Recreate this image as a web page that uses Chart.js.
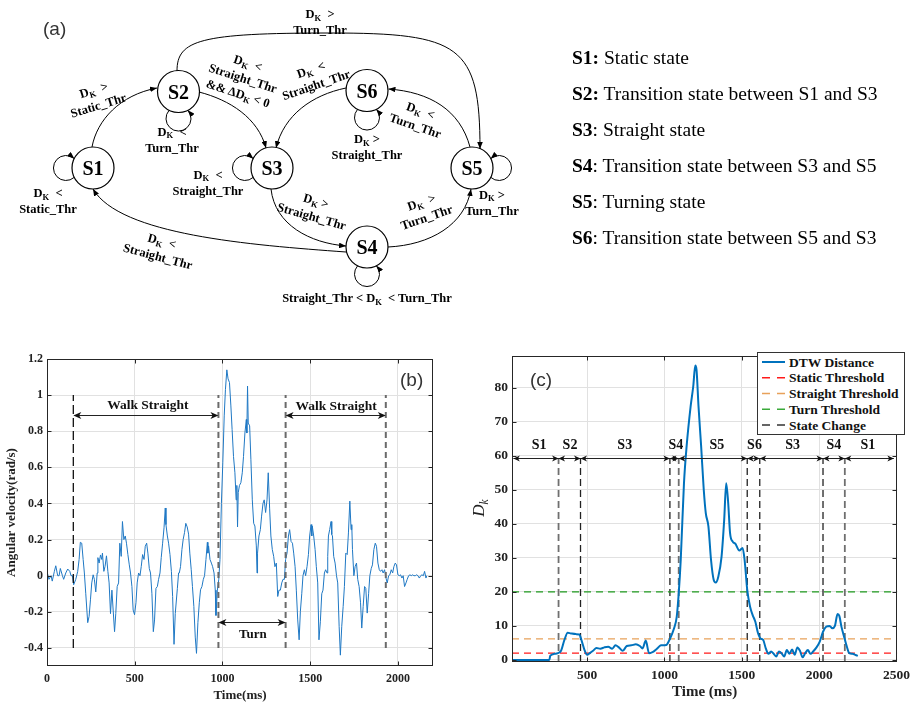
<!DOCTYPE html>
<html>
<head>
<meta charset="utf-8">
<script src="https://cdn.jsdelivr.net/npm/chart.js@4.4.1/dist/chart.umd.min.js"></script>
<style>
html,body{margin:0;padding:0;background:#fff;}
body{width:915px;height:704px;position:relative;overflow:hidden;}
canvas{position:absolute;}
#cb{left:0;top:340px;}
#cc{left:450px;top:340px;}
#ov{position:absolute;left:0;top:0;pointer-events:none;}
</style>
</head>
<body>
<canvas id="cb" width="450" height="364"></canvas>
<canvas id="cc" width="465" height="364"></canvas>
<svg id="ov" width="915" height="704" xmlns="http://www.w3.org/2000/svg"></svg>
<script>
// ===================== DATA =====================
// (b) angular velocity
const timeB = [
0,11,23,30,42,50,61,69,76,88,
95,107,118,130,137,145,152,164,175,183,
190,198,206,213,221,232,240,248,255,263,
270,278,286,290,297,305,312,316,324,331,
339,347,354,362,370,377,385,392,400,408,
415,423,430,438,446,453,461,469,476,484,
491,499,507,514,522,530,537,545,553,560,
568,575,583,590,598,606,613,621,629,636,
644,651,659,667,674,678,686,693,701,709,
716,724,731,743,750,
754,761,769,776,784,791,799,807,814,822,
829,837,845,852,860,868,875,883,891,898,
906,914,917,921,929,937,944,952,959,963,
971,979,986,994,1002,1010,1017,1025,1032,1040,
1048,1055,1063,1071,1078,1082,1086,1090,1097,1105,
1113,1120,1128,1136,1139,1143,1147,1155,1162,1170,
1178,1185,1193,1197,1200,1208,1216,1223,1231,1238,
1246,1254,1261,1269,1276,1284,1292,1299,1307,1315,
1322,1330,1338,1345,1353,1360,1368,1376,1383,1391,
1399,1406,1414,1421,1429,1437,1444,1452,1459,1467,
1474,1482,1490,1497,1505,1509,1512,1520,1528,1535,
1543,1550,1558,1566,1573,1581,1588,1596,1600,1604,
1611,1619,1623,1627,1634,1642,1650,1657,1665,1672,
1680,1688,1695,1703,1711,1718,1726,1733,1737,1741,
1749,1756,1764,1771,1779,1787,1794,1802,1810,1817,
1825,1833,1840,1848,1855,1863,1871,1878,1886,1894,
1901,1909,1916,1924,1932,1939,1947,1954,1962,1970,
1977,1985,1992,2000,2008,2015,2023,2030,2038,2046,
2053,2061,2069,2076,2084,2091,2099,2107,2114,2122,
2130,2137,2145,2152,2160,2164];
const angVel = [
.024,-.02,0,-.03,.024,.055,0,0,.04,0,
-.02,.015,.037,.024,0,0,-.05,-.02,.024,.09,
.185,.18,.09,.015,-.1,-.26,-.225,-.13,-.04,.005,
-.02,-.09,.015,.1,.07,.115,.09,.125,.024,.052,
.11,.024,-.04,-.21,-.08,-.19,-.31,-.21,-.06,-.04,
.18,.107,.30,.2,.22,.18,.117,.06,.015,-.06,
-.19,-.216,-.15,-.04,.015,0,.05,.117,.09,.163,
.18,.125,.04,.015,-.1,-.31,-.245,-.07,-.06,-.02,
.015,.1,.18,.265,.375,.283,.22,.18,.117,.024,
-.115,-.38,-.21,-.07,.015,
.015,.05,.145,.2,.24,.29,.27,.23,.125,.033,
-.06,-.17,-.34,-.43,-.26,-.15,-.078,-.06,-.02,0,
.09,.185,.125,.165,.09,.07,.05,.015,-.08,-.22,
-.08,-.02,.09,.4,.625,.885,1.03,1.14,1.09,1.07,
.94,.81,.66,.57,.42,.5,.27,.46,.5,.515,
.57,.66,.79,.865,.79,1.05,.845,.83,.645,.42,
.29,.275,.165,.015,.125,.22,.255,.33,.4,.42,
.35,.42,.57,.37,.22,.145,.107,.05,.07,-.115,
-.08,-.08,-.04,-.02,-.02,.09,.125,.22,.255,.19,
.18,.125,.05,-.08,-.245,-.355,-.2,-.1,0,.033,
0,.05,.117,.22,.283,.22,.275,.22,.145,.05,
-.04,-.355,-.255,-.1,-.08,.015,.033,.015,.107,.22,
.255,.3,.228,.22,.107,.07,0,-.04,-.28,-.44,
-.28,-.17,-.06,.125,.117,.237,.413,.255,.283,.145,
0,.05,.07,-.02,-.06,-.15,-.29,-.17,-.06,-.07,
-.207,-.1,0,.04,.06,.145,.18,.163,.07,.033,
.024,.033,.015,.033,-.013,-.04,0,.005,.033,.015,
.05,.07,.06,.005,0,.005,-.013,0,-.06,-.04,
-.02,0,.005,0,.005,0,0,.005,0,-.013,
0,.005,0,.024,-.013,0];
const xTicksB = [0,500,1000,1500,2000];
const yTicksB = [-0.4,-0.2,0,0.2,0.4,0.6,0.8,1,1.2];
const phaseMarksB = [150,977,1360,1931];
const spanLabelsB = ['Walk Straight','Turn','Walk Straight'];
const spanFromB = [150,977,1360];
const spanToB = [977,1360,1931];
const spanLevelB = [0.889,-0.259,0.889];
const spanTextTB = [575,1173,1648];
const spanTextVB = [0.94,-0.328,0.937];

// (c) DTW distance
const timeC = [
13,100,200,255,262,290,310,331,353,374,
395,427,449,466,483,500,517,538,560,585,
611,636,662,683,705,730,756,785,815,841,
858,879,900,926,951,977,1011,1032,1062,1079,
1092,1105,1126,1143,1169,1186,1199,1207,1220,1237,
1254,1267,1284,1301,1318,1331,1348,1369,1386,1399,
1412,1424,1441,1458,1484,1505,1518,1535,1553,1570,
1587,1604,1621,1638,1655,1672,1689,1706,1723,1740,
1757,1774,1791,1808,1825,1842,1859,1876,1893,1910,
1927,1944,1961,1983,2004,2025,2046,2068,2085,2102,
2119,2131,2144,2161,2178,2195,2216,2233,2250];
const dtwDist = [
0,0,0,0,1.3,1.8,2.0,2.7,5.9,8.0,
7.8,7.6,7.5,5.4,2.9,1.5,2.0,2.7,3.5,3.3,
3.7,3.9,3.3,4.3,3.7,2.7,4.1,4.3,4.6,4.1,
3.4,5.7,2.0,2.4,3.3,4.3,4.4,5.9,9.3,12.7,
19.6,29.4,52,62.8,74.6,80.5,86.6,85.4,74.6,62.8,
50,43.2,39.3,29.4,23.6,22.8,24.5,30.4,41.2,52,
46.1,37.3,34.8,34.2,32.2,32.9,29.4,20.6,15.7,13.2,
11.3,8.0,6.3,5.9,3.4,1.8,2.5,1.8,1.0,2.5,
2.0,1.0,2.9,1.8,3.1,1.5,3.7,2.7,0.8,2.0,
2.9,1.8,2.5,3.7,5.4,8.3,9.8,10.0,9.3,10.0,
13.5,12.9,9.8,6.9,4.1,2.0,1.8,1.5,1.2];
const xTicksC = [500,1000,1500,2000,2500];
const yTicksC = [0,10,20,30,40,50,60,70,80];
const thresholdNames = ['Static Threshold','Straight Threshold','Turn Threshold'];
const thresholdValues = [2,6.2,20];
const stateChangeC = [315,457,1035,1092,1535,1616,2025,2166];
const stateRangeC = [23,2483];
const stateLevelC = 59.3;
const stateNamesC = ['S1','S2','S3','S4','S5','S6','S3','S4','S1'];
const stateNameTC = [189,389,743,1073,1339,1582,1829,2095,2315];
const stateNameLevelC = 63;

// ===================== STYLE / HELPERS =====================
const SERIF = '"Liberation Serif","Times New Roman",serif';
Chart.defaults.font.family = SERIF;
Chart.defaults.color = '#222';
const GRID = '#e1e1e1';

function arrowHead(ctx,x,y,dir,len,hw){
  ctx.beginPath();
  ctx.moveTo(x,y);
  ctx.lineTo(x-dir*len,y-hw);
  ctx.lineTo(x-dir*len*0.72,y);
  ctx.lineTo(x-dir*len,y+hw);
  ctx.closePath();
  ctx.fill();
}
function drawFrame(chart){
  const {ctx,chartArea:a,scales:{x,y}} = chart;
  ctx.save();
  ctx.strokeStyle='#262626'; ctx.lineWidth=1;
  const L=Math.round(a.left)+0.5, T=Math.round(a.top)+0.5, R=Math.round(a.right)-0.5, B=Math.round(a.bottom)-0.5;
  ctx.strokeRect(L,T,R-L,B-T);
  ctx.beginPath();
  x.ticks.forEach(t=>{const p=Math.round(x.getPixelForValue(t.value))+0.5; ctx.moveTo(p,B); ctx.lineTo(p,B-4); ctx.moveTo(p,T); ctx.lineTo(p,T+4);});
  y.ticks.forEach(t=>{const p=Math.round(y.getPixelForValue(t.value))+0.5; ctx.moveTo(L,p); ctx.lineTo(L+4,p); ctx.moveTo(R,p); ctx.lineTo(R-4,p);});
  ctx.stroke();
  ctx.restore();
}
const tickFont = (s)=>({family:SERIF,size:s,weight:'bold'});

// ===================== CHART (b) =====================
const annB = {id:'annB', afterDatasetsDraw(chart){
  drawFrame(chart);
  const {ctx,scales:{x,y}} = chart;
  ctx.save();
  ctx.fillStyle='#111'; ctx.strokeStyle='#222'; ctx.lineWidth=1;
  spanLabelsB.forEach((lab,i)=>{
    const x1=x.getPixelForValue(spanFromB[i]), x2=x.getPixelForValue(spanToB[i]);
    const py=Math.round(y.getPixelForValue(spanLevelB[i]))+0.5;
    ctx.beginPath(); ctx.moveTo(x1+4,py); ctx.lineTo(x2-4,py); ctx.stroke();
    arrowHead(ctx,x1,py,-1,8,3.5); arrowHead(ctx,x2,py,1,8,3.5);
    ctx.font = 'bold '+(lab==='Turn'?13:13.5)+'px '+SERIF;
    ctx.textAlign='center'; ctx.textBaseline='middle';
    ctx.fillText(lab,x.getPixelForValue(spanTextTB[i]),y.getPixelForValue(spanTextVB[i]));
  });
  ctx.restore();
}};
const dsB = phaseMarksB.map((t,i)=>({
  data:[{x:t,y:-0.4},{x:t,y:1.0}], showLine:true, pointRadius:0,
  borderColor:i===0?'#111':'#6a6a6a', borderWidth:i===0?1.3:2, borderDash:i===0?[9,4]:[6,4]
}));
dsB.push({data:timeB.map((t,i)=>({x:t,y:angVel[i]})), showLine:true, pointRadius:0, borderColor:'#1f78c4', borderWidth:1, tension:0});
new Chart(document.getElementById('cb'),{
  type:'scatter',
  data:{datasets:dsB},
  options:{
    responsive:false, animation:false, events:[],
    layout:{padding:{left:0,right:17,top:19,bottom:0},autoPadding:false},
    plugins:{legend:{display:false},tooltip:{enabled:false}},
    scales:{
      x:{type:'linear',min:0,max:2200,
        afterBuildTicks:s=>{s.ticks=xTicksB.map(v=>({value:v}));},
        afterFit:s=>{s.height=38;},
        grid:{color:GRID,drawTicks:false},border:{display:false},
        ticks:{padding:6,font:tickFont(12),color:'#222',maxRotation:0,autoSkip:false,callback:v=>String(v)},
        title:{display:true,text:'Time(ms)',font:tickFont(13),color:'#222',padding:{top:0,bottom:1}}},
      y:{type:'linear',min:-0.5,max:1.2,
        afterBuildTicks:s=>{s.ticks=yTicksB.map(v=>({value:v}));},
        afterFit:s=>{s.width=47;},
        grid:{color:GRID,drawTicks:false},border:{display:false},
        ticks:{padding:4,font:tickFont(12),color:'#222',autoSkip:false,callback:v=>String(Math.round(v*10)/10)},
        title:{display:true,text:'Angular velocity(rad/s)',font:tickFont(13),color:'#222',padding:{top:4,bottom:0}}}
    }
  },
  plugins:[annB]
});

// ===================== CHART (c) =====================
const annC = {id:'annC', afterDatasetsDraw(chart){
  drawFrame(chart);
  const {ctx,scales:{x,y}} = chart;
  ctx.save();
  ctx.fillStyle='#111'; ctx.strokeStyle='#222'; ctx.lineWidth=1;
  const bounds=[stateRangeC[0],...stateChangeC,stateRangeC[1]];
  const py=Math.round(y.getPixelForValue(stateLevelC))+0.5;
  ctx.beginPath(); ctx.moveTo(x.getPixelForValue(bounds[0]),py); ctx.lineTo(x.getPixelForValue(bounds[bounds.length-1]),py); ctx.stroke();
  for(let i=0;i<bounds.length-1;i++){
    arrowHead(ctx,x.getPixelForValue(bounds[i]),py,-1,6.5,3);
    arrowHead(ctx,x.getPixelForValue(bounds[i+1]),py,1,6.5,3);
  }
  ctx.font='bold 14px '+SERIF; ctx.textAlign='center'; ctx.textBaseline='middle';
  stateNamesC.forEach((n,i)=>ctx.fillText(n,x.getPixelForValue(stateNameTC[i]),y.getPixelForValue(stateNameLevelC)));
  ctx.restore();
}};
const thrColors=['#ff1a1a','#e8a15a','#1f9a1f'];
const dsC=[{data:timeC.map((t,i)=>({x:t,y:dtwDist[i]})), showLine:true, pointRadius:0, borderColor:'#0072BD', borderWidth:2, cubicInterpolationMode:'monotone'}];
thresholdValues.forEach((v,i)=>dsC.push({data:[{x:14,y:v},{x:2505,y:v}],showLine:true,pointRadius:0,borderColor:thrColors[i],borderWidth:1.3,borderDash:[7,5]}));
const grayIdx=[0,3,7];
stateChangeC.forEach((t,i)=>dsC.push({data:[{x:t,y:-0.6},{x:t,y:stateLevelC}],showLine:true,pointRadius:0,
  borderColor:grayIdx.includes(i)?'#6f6f6f':'#222',borderWidth:grayIdx.includes(i)?1.8:1.3,borderDash:[7,4]}));
new Chart(document.getElementById('cc'),{
  type:'scatter',
  data:{datasets:dsC},
  options:{
    responsive:false, animation:false, events:[],
    layout:{padding:{left:0,right:13,top:16,bottom:0},autoPadding:false},
    plugins:{legend:{display:false},tooltip:{enabled:false}},
    scales:{
      x:{type:'linear',min:14,max:2505,
        afterBuildTicks:s=>{s.ticks=xTicksC.map(v=>({value:v}));},
        afterFit:s=>{s.height=42;},
        grid:{color:GRID,drawTicks:false},border:{display:false},
        ticks:{padding:5,font:tickFont(13.5),color:'#222',maxRotation:0,autoSkip:false,callback:v=>String(v)},
        title:{display:true,text:'Time (ms)',font:tickFont(15),color:'#222',padding:{top:0,bottom:3}}},
      y:{type:'linear',min:-0.6,max:89.4,
        afterBuildTicks:s=>{s.ticks=yTicksC.map(v=>({value:v}));},
        afterFit:s=>{s.width=62;},
        grid:{color:GRID,drawTicks:false},border:{display:false},
        ticks:{padding:4,font:tickFont(13.5),color:'#222',autoSkip:false,callback:v=>String(v)}}
    }
  },
  plugins:[annC]
});

// ===================== DIAGRAM (a) + overlay text =====================
const esc = s=>s.replace(/&/g,'&amp;').replace(/</g,'&lt;').replace(/>/g,'&gt;');
function dkText(s){
  const parts=s.split('D_K');
  let out=esc(parts[0]);
  for(let i=1;i<parts.length;i++){
    out+='D<tspan font-size="8.5" dy="2.5">K</tspan><tspan dy="-2.5">'+esc(parts[i])+'</tspan>';
  }
  return out;
}
const stateNodes=[['S1',93,168],['S2',178.5,91.5],['S3',272,168],['S4',367,247],['S5',472,168],['S6',367,90.5]];
const edgePaths=[
 'M92,147 C97,120 120,95 157,88',
 'M199,92 C230,100 258,118 266,148',
 'M346,88 C312,95 284,115 276,148',
 'M177,71 C177,40 200,33 330,33 C460,33 480,45 480,149',
 'M470,147 C460,110 430,92 388.5,89',
 'M271,189 C275,225 310,243 346,246',
 'M388,247 C430,245 465,225 471,189',
 'M346,252 C250,245 120,235 93,189'
];
const loops=[[93,168,180,false],[178.5,91.5,90,true],[272,168,180,false],[472,168,0,true],[367,90.5,90,true],[367,247,90,true]];
function loopPath(cx,cy,ang,flip){
  const R=21,r=12.5,d=27;
  const c=Math.cos(ang*Math.PI/180), s=Math.sin(ang*Math.PI/180);
  const lx=cx+d*c, ly=cy+d*s, ux=-c, uy=-s, nx=-uy, ny=ux;
  const a=(d*d+r*r-R*R)/(2*d), hh=Math.sqrt(r*r-a*a);
  const p1=[lx+a*ux+hh*nx,ly+a*uy+hh*ny], p2=[lx+a*ux-hh*nx,ly+a*uy-hh*ny];
  const st=flip?p2:p1, en=flip?p1:p2, sw=flip?0:1;
  return 'M'+st[0].toFixed(1)+','+st[1].toFixed(1)+' A'+r+','+r+' 0 1 '+sw+' '+en[0].toFixed(1)+','+en[1].toFixed(1);
}
const diagLabels=[
 [96,97.5,-17,['D_K  >','Static_Thr']],
 [48,201,0,['D_K  <','Static_Thr']],
 [172,139.5,0,['D_K  <','Turn_Thr']],
 [320,22,0,['D_K  >','Turn_Thr']],
 [243,78,18,['D_K  <','Straight_Thr','&& ΔD_K < 0']],
 [313.5,77,-19,['D_K  <','Straight_Thr']],
 [208,182.5,0,['D_K  <','Straight_Thr']],
 [367,147,0,['D_K >','Straight_Thr']],
 [418,118,19,['D_K  <','Turn_Thr']],
 [492,202.5,0,['D_K >','Turn_Thr']],
 [314,208.5,16,['D_K >','Straight_Thr']],
 [424,209.5,-19,['D_K  >','Turn_Thr']],
 [160,248.5,15,['D_K  <','Straight_Thr']],
 [367,298,0,['Straight_Thr < D_K  < Turn_Thr']]
];
let h='<defs><marker id="ah" viewBox="0 0 10 8" refX="10" refY="4" markerWidth="7" markerHeight="5.6" markerUnits="userSpaceOnUse" orient="auto"><path d="M0,0 L10,4 L0,8 z" fill="#000"/></marker></defs>';
h+='<g fill="none" stroke="#000" stroke-width="1">';
stateNodes.forEach(n=>{h+='<circle cx="'+n[1]+'" cy="'+n[2]+'" r="21" fill="#fff" stroke-width="1.2"/>';});
edgePaths.forEach(p=>{h+='<path d="'+p+'" marker-end="url(#ah)"/>';});
loops.forEach(l=>{h+='<path d="'+loopPath(l[0],l[1],l[2],l[3])+'" marker-end="url(#ah)"/>';});
h+='</g>';
h+='<g font-family=\'"Liberation Serif",serif\' font-weight="bold" fill="#000" text-anchor="middle">';
stateNodes.forEach(n=>{h+='<text x="'+n[1]+'" y="'+(n[2]+7)+'" font-size="20">'+n[0]+'</text>';});
diagLabels.forEach(L=>{
  const [cx,cy,rot,lines]=L;
  h+='<g transform="rotate('+rot+' '+cx+' '+cy+')" font-size="12.5" style="white-space:pre">';
  lines.forEach((ln,i)=>{
    const yy=cy+(i-(lines.length-1)/2)*16+4.3;
    h+='<text x="'+cx+'" y="'+yy.toFixed(1)+'" xml:space="preserve">'+dkText(ln)+'</text>';
  });
  h+='</g>';
});
h+='</g>';
// state descriptions
const descBold=['S1:','S2:','S3','S4','S5','S6'];
const descRest=[' Static state',' Transition state between S1 and S3',': Straight state',': Transition state between S3 and S5',': Turning state',': Transition state between S5 and S3'];
h+='<g font-family=\'"Liberation Serif",serif\' font-size="19.5" fill="#000">';
descBold.forEach((b,i)=>{h+='<text x="572" y="'+(63.5+i*36)+'" xml:space="preserve"><tspan font-weight="bold">'+b+'</tspan>'+esc(descRest[i])+'</text>';});
h+='</g>';
// panel letters
h+='<g font-family=\'"Liberation Sans",Arial,sans-serif\' font-size="19" fill="#333">';
h+='<text x="43" y="35">(a)</text><text x="400" y="386">(b)</text><text x="530" y="386">(c)</text></g>';
// D_k axis title for (c)
h+='<text transform="translate(483.5,508) rotate(-90)" text-anchor="middle" font-family=\'"Liberation Serif",serif\' font-style="italic" font-size="17" fill="#222">D<tspan font-size="11.5" dy="4">k</tspan></text>';
// legend of (c)
const legNames=['DTW Distance',...thresholdNames,'State Change'];
const legColors=['#0072BD','#ff1a1a','#e8a15a','#3aaa3a','#333'];
h+='<rect x="757.5" y="352.5" width="147" height="82" fill="#fff" stroke="#333" stroke-width="1"/>';
legNames.forEach((n,i)=>{
  const yy=362+i*15.75;
  h+='<line x1="762" y1="'+yy+'" x2="785" y2="'+yy+'" stroke="'+legColors[i]+'" stroke-width="'+(i===0?2:1.5)+'"'+(i===0?'':' stroke-dasharray="8,7"')+'/>';
  h+='<text x="789" y="'+(yy+4.6)+'" font-family=\'"Liberation Serif",serif\' font-weight="bold" font-size="13.5" fill="#111">'+esc(n)+'</text>';
});
document.getElementById('ov').innerHTML=h;
</script>
</body>
</html>
